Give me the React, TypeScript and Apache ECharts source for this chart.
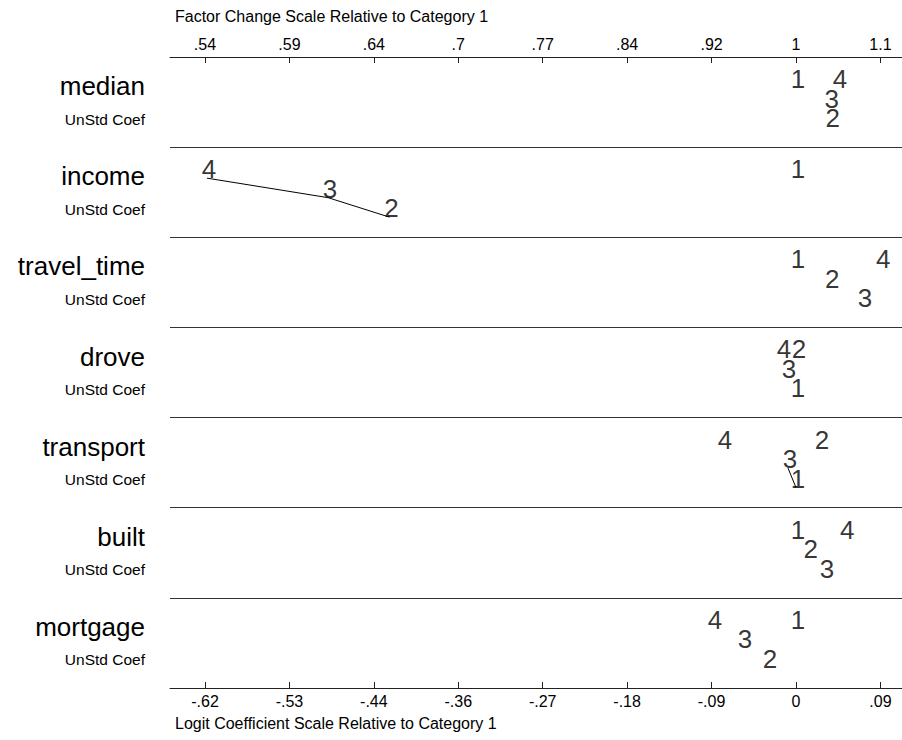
import React, { useEffect, useRef } from "react";
import * as echarts from "echarts";

// ---- data ----
const variables = ["median", "income", "travel_time", "drove", "transport", "built", "mortgage"];
const subLabel = "UnStd Coef";
const categories = ["1", "2", "3", "4"];
// logit coefficients relative to category 1
const cat1 = [0, 0, 0, 0, 0, 0, 0];
const cat2 = [0.0365, -0.4275, 0.0361, 0.001, 0.0252, 0.0134, -0.0294];
const cat3 = [0.0354, -0.4922, 0.0705, -0.0095, -0.0084, 0.0305, -0.0557];
const cat4 = [0.0442, -0.6195, 0.0897, -0.0147, -0.0768, 0.0519, -0.0873];
// categories joined by a line (not significantly different)
const connections: { variable: string; cats: string[] }[] = [
  { variable: "income", cats: ["4", "3", "2"] },
  { variable: "transport", cats: ["3", "1"] },
];
const tickValues = [-0.6216, -0.5328, -0.444, -0.3552, -0.2664, -0.1776, -0.0888, 0, 0.0888];
const bottomTickLabels = ["-.62", "-.53", "-.44", "-.36", "-.27", "-.18", "-.09", "0", ".09"];
const topTickLabels = [".54", ".59", ".64", ".7", ".77", ".84", ".92", "1", "1.1"];
const topTitle = "Factor Change Scale Relative to Category 1";
const bottomTitle = "Logit Coefficient Scale Relative to Category 1";

const FONT = "'Liberation Sans', Arial, Helvetica, sans-serif";
const X_MIN = -0.6584;
const X_MAX = 0.1115;
const ROW_PX = 90.14;
const LEVEL_PX = [31, 50.5, 70];
const LEVEL_PATTERN = [0, 1, 2, 0];

export default function App() {
  const ref = useRef<HTMLDivElement>(null);
  useEffect(() => {
    document.body.style.margin = "0";
    if (!ref.current) return;
    const chart = echarts.init(ref.current, null, { renderer: "svg" });
    const allCats = [cat1, cat2, cat3, cat4];

    // compute vertical stagger (layout) by rank within each row
    const pos: Record<string, [number, number]> = {};
    const points: any[] = [];
    variables.forEach((v, i) => {
      const vals = allCats.map((arr, k) => ({ k, x: arr[i] }));
      const sorted = [...vals].sort((a, b) => a.x - b.x);
      sorted.forEach((p, rank) => {
        const lvl = LEVEL_PATTERN[rank % LEVEL_PATTERN.length];
        const y = i + LEVEL_PX[lvl] / ROW_PX;
        pos[v + "_" + categories[p.k]] = [p.x, y];
        points.push({ value: [p.x, y], name: categories[p.k] });
      });
    });

    const lineSeries = connections.map((c) => ({
      type: "line",
      xAxisIndex: 0,
      yAxisIndex: 0,
      data: c.cats.map((k) => pos[c.variable + "_" + k]),
      symbol: "none",
      lineStyle: { color: "#000", width: 1 },
      silent: true,
      z: 1,
    }));

    const labelFmt = (labels: string[]) => (val: number) => {
      let best = 0;
      tickValues.forEach((t, j) => {
        if (Math.abs(t - val) < Math.abs(tickValues[best] - val)) best = j;
      });
      return labels[best];
    };

    const xBase = (position: "top" | "bottom", labels: string[]) => ({
      type: "value",
      position,
      min: X_MIN,
      max: X_MAX,
      axisLine: { show: true, onZero: false, lineStyle: { color: "#222", width: 1 } },
      axisTick: {
        show: true,
        inside: true,
        length: 6,
        customValues: tickValues,
        lineStyle: { color: "#222", width: 1 },
      },
      axisLabel: {
        show: true,
        customValues: tickValues,
        formatter: labelFmt(labels),
        color: "#000",
        fontSize: 16,
        fontFamily: FONT,
        margin: 5,
      },
      splitLine: { show: false },
    });

    chart.setOption({
      animation: false,
      backgroundColor: "#fff",
      grid: { left: 170, right: 0, top: 57, bottom: 52, containLabel: false },
      xAxis: [xBase("bottom", bottomTickLabels), xBase("top", topTickLabels)],
      yAxis: [
        {
          type: "value",
          min: 0,
          max: variables.length,
          interval: 1,
          inverse: true,
          axisLine: { show: false },
          axisTick: { show: false },
          axisLabel: { show: false },
          splitLine: { show: true, lineStyle: { color: "#333", width: 1 } },
        },
        {
          type: "category",
          data: variables,
          inverse: true,
          position: "left",
          axisLine: { show: false },
          axisTick: { show: false },
          splitLine: { show: false },
          axisLabel: {
            margin: 25,
            formatter: (v: string) => `{a|${v}}\n{b|${subLabel}}`,
            rich: {
              a: { fontSize: 26, lineHeight: 34, color: "#000", fontFamily: FONT, align: "right" },
              b: { fontSize: 15.5, lineHeight: 32, color: "#000", fontFamily: FONT, align: "right" },
            },
          },
        },
      ],
      series: [
        ...lineSeries,
        {
          type: "scatter",
          xAxisIndex: 0,
          yAxisIndex: 0,
          data: points,
          symbol: "circle",
          symbolSize: 1,
          itemStyle: { color: "rgba(0,0,0,0)" },
          silent: true,
          z: 2,
          label: {
            show: true,
            position: "inside",
            formatter: (p: any) => p.name,
            offset: [2, -9],
            align: "center",
            verticalAlign: "middle",
            fontSize: 26,
            color: "#000",
            fontFamily: FONT,
          },
        },
      ],
      graphic: [
        {
          type: "text",
          left: 175,
          top: 8,
          style: { text: topTitle, fontSize: 16, fill: "#000", fontFamily: FONT },
        },
        {
          type: "text",
          left: 175,
          top: 715,
          style: { text: bottomTitle, fontSize: 16, fill: "#000", fontFamily: FONT },
        },
      ],
    });
    return () => chart.dispose();
  }, []);
  return (
    <div
      ref={ref}
      style={{ position: "absolute", left: 0, top: 0, width: 902, height: 740 }}
    />
  );
}
